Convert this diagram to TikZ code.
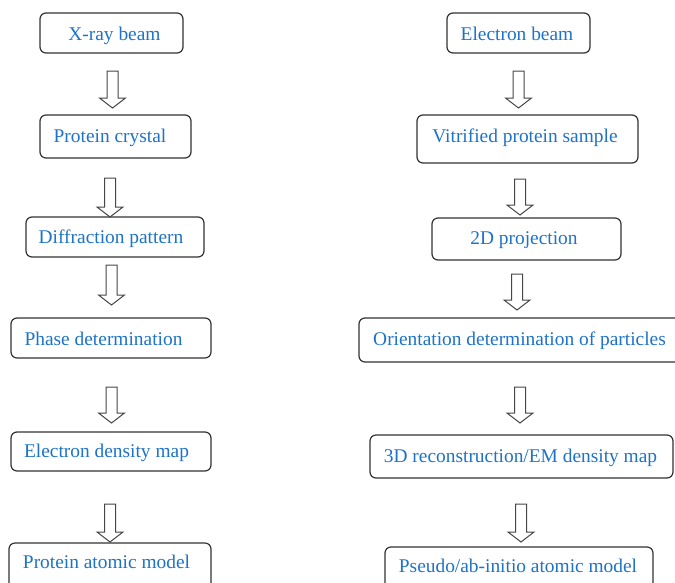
\documentclass[tikz,border=0pt]{standalone}
\usepackage{fontspec}
\setmainfont{Liberation Serif}
\definecolor{txtblue}{RGB}{30,115,200}
\definecolor{boxgray}{RGB}{50,50,50}
\definecolor{arrgray}{RGB}{70,70,70}
\newcommand{\barrowdown}[4]{%
  \draw[blockarr] (#1-5.5,#2) -- (#1+5.5,#2) -- (#1+5.5,#3) -- (#1+13,#3) -- (#1,#4) -- (#1-13,#3) -- (#1-5.5,#3) -- cycle;}
\begin{document}
\begin{tikzpicture}[x=1pt,y=-1pt,
  box/.style={draw=boxgray,line width=1.2pt,rounded corners=6pt,fill=white},
  lbl/.style={anchor=base,inner sep=0pt,text=txtblue,font=\fontsize{19.4}{23}\selectfont},
  blockarr/.style={draw=arrgray,line width=1pt,fill=white,line join=miter}]
\useasboundingbox (0,0) rectangle (675,582);
\clip (0,0) rectangle (675,582);
% left column boxes
\draw[box] (40,13) rectangle (183,53);
\draw[box] (40,115) rectangle (191,158);
\draw[box] (26,217) rectangle (204,257);
\draw[box] (11,318) rectangle (211,358);
\draw[box] (11,432) rectangle (211,471);
\draw[box] (9,543) rectangle (211,600);
% right column boxes
\draw[box] (447,13) rectangle (590,53);
\draw[box] (417,115) rectangle (638,163);
\draw[box] (432,218) rectangle (621,260);
\draw[box] (359,318) rectangle (700,362);
\draw[box] (370,435) rectangle (673,478);
\draw[box] (385,547) rectangle (653,600);
% labels
\node[lbl] (l1) at (114.5,40) {X-ray beam};
\node[lbl] (l2) at (110,142) {Protein crystal};
\node[lbl] (l3) at (111,243) {Diffraction pattern};
\node[lbl] (l4) at (103.5,345) {Phase determination};
\node[lbl] (l5) at (106.5,457) {Electron density map};
\node[lbl] (l6) at (106.5,568) {Protein atomic model};
\node[lbl] (r1) at (517,40) {Electron beam};
\node[lbl] (r2) at (525,142) {Vitrified protein sample};
\node[lbl] (r3) at (524,244) {2D projection};
\node[lbl] (r4) at (519.5,345) {Orientation determination of particles};
\node[lbl] (r5) at (520.5,462) {3D reconstruction/EM density map};
\node[lbl] (r6) at (518,572) {Pseudo/ab-initio atomic model};
% block arrows
\barrowdown{112.5}{71}{98}{108}
\barrowdown{110}{178}{207}{217}
\barrowdown{111.5}{265}{295}{305}
\barrowdown{111.5}{387}{413}{423}
\barrowdown{110}{504}{532}{542}
\barrowdown{518.5}{71}{98}{108}
\barrowdown{520}{179}{205}{215}
\barrowdown{517}{274}{300}{310}
\barrowdown{520}{387}{413}{423}
\barrowdown{521}{504}{532}{542}
\end{tikzpicture}
\end{document}
